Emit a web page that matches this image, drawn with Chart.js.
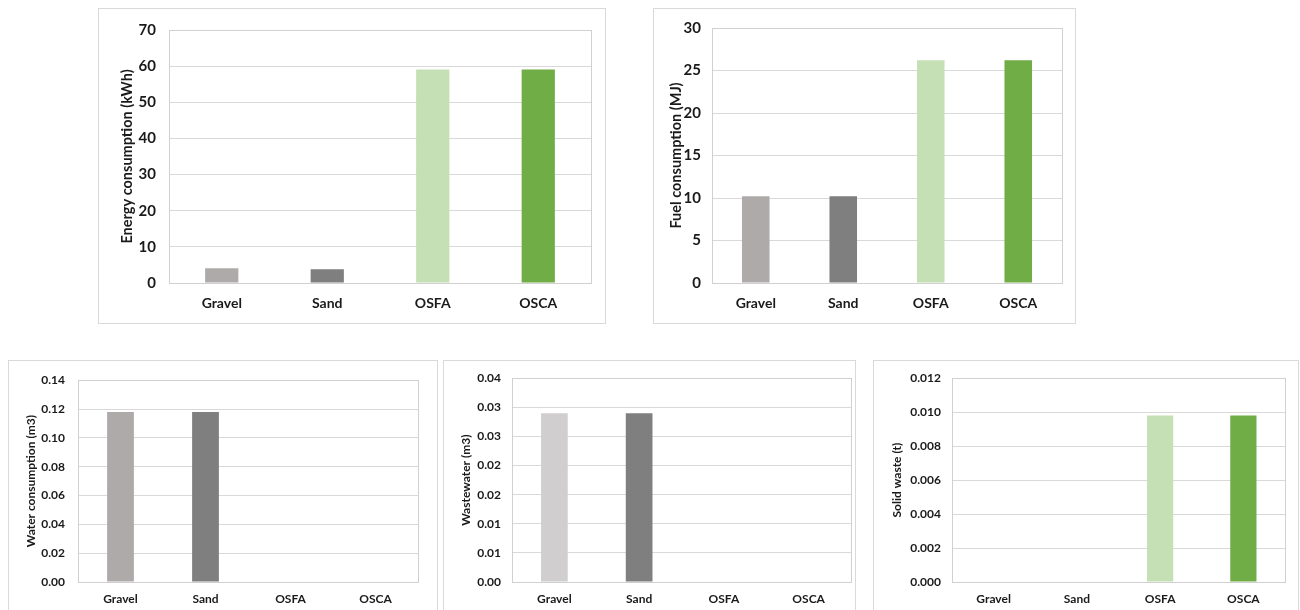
<!DOCTYPE html>
<html><head><meta charset="utf-8">
<script src="https://cdn.jsdelivr.net/npm/chart.js@4"></script>
<style>
body{margin:0;background:#fff;width:1300px;height:610px;overflow:hidden;position:relative;}
.panel{position:absolute;border:1px solid #d9d9d9;box-sizing:border-box;background:#fff;}
canvas{position:absolute;}
</style></head><body>
<div class="panel" style="left:98px;top:8px;width:508px;height:316px"></div>
<div class="panel" style="left:653px;top:8px;width:423px;height:316px"></div>
<div class="panel" style="left:8px;top:360px;width:430px;height:270px"></div>
<div class="panel" style="left:443px;top:360px;width:413px;height:270px"></div>
<div class="panel" style="left:873px;top:360px;width:426px;height:270px"></div>
<canvas id="c1" width="508" height="316" style="left:98px;top:8px"></canvas>
<canvas id="c2" width="423" height="316" style="left:653px;top:8px"></canvas>
<canvas id="c3" width="430" height="250" style="left:8px;top:360px"></canvas>
<canvas id="c4" width="413" height="250" style="left:443px;top:360px"></canvas>
<canvas id="c5" width="426" height="250" style="left:873px;top:360px"></canvas>
<script>
const categories = ['Gravel', 'Sand', 'OSFA', 'OSCA'];
const energyValues = [4.1, 3.8, 59.1, 59.1];
const fuelValues = [10.2, 10.2, 26.2, 26.2];
const waterValues = [0.118, 0.118, 0, 0];
const wastewaterValues = [0.029, 0.029, 0, 0];
const solidWasteValues = [0, 0, 0.0098, 0.0098];

const energyTicks = ['0', '10', '20', '30', '40', '50', '60', '70'];
const fuelTicks = ['0', '5', '10', '15', '20', '25', '30'];
const waterTicks = ['0.00', '0.02', '0.04', '0.06', '0.08', '0.10', '0.12', '0.14'];
const wastewaterTicks = ['0.00', '0.01', '0.01', '0.02', '0.02', '0.03', '0.03', '0.04'];
const solidWasteTicks = ['0.000', '0.002', '0.004', '0.006', '0.008', '0.010', '0.012'];

const colorsMain = ['#aeaaaa', '#7f7f7f', '#c5e0b4', '#70ad47'];
const colorsWaste = ['#d0cece', '#7f7f7f', '#c5e0b4', '#70ad47'];

const FONT = 'Lato, "Open Sans", sans-serif';
const TEXT = '#1a1a1a';

const framePlugin = {
  id: 'frame',
  beforeDatasetsDraw(chart) {
    const a = chart.chartArea, ctx = chart.ctx;
    ctx.save();
    ctx.strokeStyle = '#d0d0d0';
    ctx.lineWidth = 1;
    ctx.strokeRect(Math.round(a.left) + 0.5, Math.round(a.top) + 0.5, Math.round(a.right - a.left), Math.round(a.bottom - a.top));
    ctx.restore();
  }
};

function makeChart(id, cfg) {
  new Chart(document.getElementById(id), {
    type: 'bar',
    data: {
      labels: categories,
      datasets: [{ data: cfg.values, backgroundColor: cfg.colors, borderWidth: 0,
        barPercentage: 0.315, categoryPercentage: 1 }]
    },
    options: {
      responsive: false,
      animation: false,
      devicePixelRatio: 1,
      layout: { padding: { top: cfg.padTop, right: cfg.padRight, left: 0, bottom: 0 } },
      plugins: { legend: { display: false }, tooltip: { enabled: false } },
      scales: {
        x: {
          grid: { display: false, drawTicks: false },
          border: { display: false },
          ticks: { color: TEXT, font: { family: FONT, size: cfg.xFont, weight: 'bold' }, padding: cfg.xPad, maxRotation: 0 },
          afterFit(s) { s.height = cfg.xHeight; }
        },
        y: {
          min: 0, max: cfg.max,
          grid: { color: '#d9d9d9', lineWidth: 1, drawTicks: false },
          border: { display: false },
          ticks: { stepSize: cfg.step, color: TEXT, padding: cfg.yPad,
            font: { family: FONT, size: cfg.yFont, weight: 'bold' },
            callback: (v, i) => cfg.tickLabels[i] },
          title: { display: true, text: cfg.title, color: TEXT,
            font: { family: FONT, size: cfg.titleFont, weight: 'bold' },
            padding: { top: cfg.titlePad, bottom: 0 } },
          afterFit(s) { s.width = cfg.yWidth; }
        }
      }
    },
    plugins: [framePlugin]
  });
}

makeChart('c1', { values: energyValues, colors: colorsMain, max: 70, step: 10, tickLabels: energyTicks,
  title: 'Energy consumption (kWh)', padTop: 17, padRight: 15, xHeight: 41, yWidth: 71,
  xFont: 14, yFont: 15, titleFont: 14.5, xPad: 12, yPad: 13, titlePad: 21 });
makeChart('c2', { values: fuelValues, colors: colorsMain, max: 30, step: 5, tickLabels: fuelTicks,
  title: 'Fuel consumption (MJ)', padTop: 17, padRight: 14, xHeight: 41, yWidth: 59,
  xFont: 14, yFont: 15, titleFont: 14.5, xPad: 12, yPad: 11, titlePad: 15 });
makeChart('c3', { values: waterValues, colors: colorsMain, max: 0.14, step: 0.02, tickLabels: waterTicks,
  title: 'Water consumption (m3)', padTop: 14, padRight: 20, xHeight: 28, yWidth: 70,
  xFont: 12, yFont: 12, titleFont: 12, xPad: 10, yPad: 13, titlePad: 16 });
makeChart('c4', { values: wastewaterValues, colors: colorsWaste, max: 0.035, step: 0.005, tickLabels: wastewaterTicks,
  title: 'Wastewater (m3)', padTop: 14, padRight: 5, xHeight: 28, yWidth: 69,
  xFont: 12, yFont: 12, titleFont: 12, xPad: 10, yPad: 11, titlePad: 16 });
makeChart('c5', { values: solidWasteValues, colors: colorsMain, max: 0.012, step: 0.002, tickLabels: solidWasteTicks,
  title: 'Solid waste (t)', padTop: 14, padRight: 14, xHeight: 28, yWidth: 79,
  xFont: 12, yFont: 12, titleFont: 12, xPad: 10, yPad: 11, titlePad: 17 });
</script>
</body></html>
